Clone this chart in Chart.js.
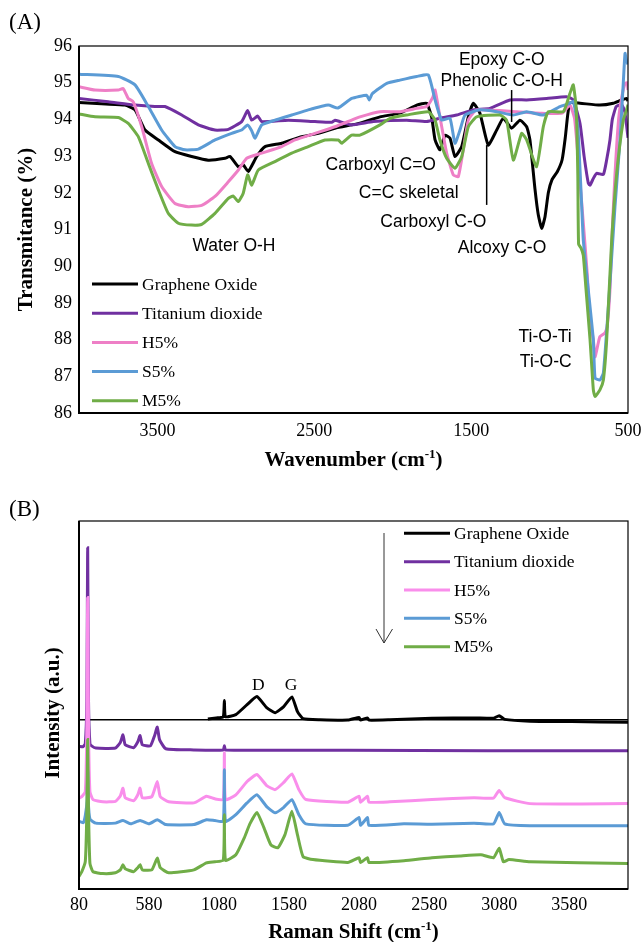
<!DOCTYPE html>
<html>
<head>
<meta charset="utf-8">
<script src="https://cdn.jsdelivr.net/npm/chart.js@4.4.1/dist/chart.umd.min.js"></script>
<style>
body { margin: 0; background: #fff; }
.panel { position: absolute; left: 0; width: 643px; height: 471px; }
</style>
</head>
<body>
<div class="panel" style="top:0"><canvas id="ftir" width="643" height="471"></canvas></div>
<div class="panel" style="top:471px"><canvas id="raman" width="643" height="471"></canvas></div>
<script>
let seriesNames = ['Graphene Oxide', 'Titanium dioxide', 'H5%', 'S5%', 'M5%'];
let ftirColors = ['#000000', '#7030A0', '#EE7FC6', '#5B9BD5', '#70AD47'];
let ramanColors = ['#000000', '#7030A0', '#F98EEB', '#5B9BD5', '#70AD47'];

// (A) FTIR, wavenumber (cm-1) vs transmittance (%)
let ftirTicksX = [3500, 2500, 1500, 500];
let goWave = [4000,3830,3707,3643,3579,3494,3388,3282,3176,3069,3037,2984,2953,2921,2867,2814,2708,2580,2474,2368,2262,2209,2081,1954,1847,1784,1752,1730,1699,1667,1635,1603,1560,1518,1486,1444,1391,1337,1295,1242,1189,1146,1125,1093,1072,1050,1029,1008,985,950,920,900,885,870,806,679,594,541,509,500];
let goT = [94.46,94.42,94.39,94.26,93.71,93.44,93.12,92.99,92.89,92.94,92.99,92.71,92.76,92.58,92.99,93.26,93.35,93.53,93.62,93.76,93.85,93.9,94.07,94.17,94.39,94.44,94.07,93.44,93.17,93.57,93.49,92.99,93.26,94.07,94.44,94.17,93.3,93.71,94.03,93.76,93.98,93.8,93.44,92.1,91.4,91.03,91.35,92.0,92.35,92.58,92.9,93.5,94.1,94.45,94.44,94.39,94.44,94.53,94.57,94.5];
let tiWave = [4000,3813,3643,3516,3452,3345,3239,3133,3048,2963,2925,2899,2861,2835,2666,2496,2389,2368,2336,2262,2124,1911,1784,1699,1592,1486,1380,1253,1146,1019,892,849,806,780,753,742,720,700,657,636,615,600,575,540,520,500];
let tiT = [94.57,94.48,94.39,94.35,94.35,94.12,93.85,93.71,93.73,93.94,94.24,93.98,94.09,93.94,93.98,93.94,93.92,93.98,93.94,93.85,93.94,93.98,93.94,94.03,94.12,94.26,94.3,94.53,94.53,94.57,94.62,94.53,93.89,93.0,92.26,92.21,92.4,92.53,92.5,92.9,93.44,94.0,94.35,94.4,94.2,93.5];
let h5Wave = [4000,3898,3749,3718,3686,3654,3600,3537,3473,3388,3303,3218,3133,3048,2984,2931,2835,2708,2623,2496,2368,2262,2209,2081,1954,1847,1784,1745,1730,1699,1656,1614,1582,1550,1518,1465,1210,1061,920,870,840,806,785,760,742,721,710,690,679,647,633,615,600,583,560,540,519,505,500];
let h5T = [94.89,94.8,94.8,94.84,94.57,94.48,93.8,92.8,92.17,91.71,91.62,91.66,91.9,92.3,92.62,92.94,93.08,93.26,93.44,93.62,93.8,93.98,94.07,94.21,94.21,94.3,94.35,94.6,94.8,94.07,93.08,92.49,92.44,93.17,93.98,94.26,94.21,94.17,94.17,94.39,94.0,92.3,91.18,89.8,88.5,88.0,87.53,87.9,88.08,88.18,88.35,89.35,91.0,92.5,94.0,94.6,94.98,95.0,94.8];
let s5Wave = [4000,3749,3643,3558,3473,3388,3324,3239,3133,3027,2963,2925,2900,2878,2835,2751,2644,2538,2411,2349,2262,2166,2150,2130,2038,1954,1847,1773,1730,1688,1635,1603,1571,1539,1444,1337,1231,1146,1040,934,870,848,820,795,785,753,721,710,679,657,625,583,551,530,519,510,500];
let s5T = [95.23,95.17,94.94,94.35,93.71,93.26,93.17,93.19,93.44,93.62,93.71,93.85,93.7,93.49,93.85,93.98,94.12,94.26,94.39,94.31,94.57,94.66,94.53,94.7,94.98,95.07,95.17,95.21,94.53,93.98,94.03,93.35,93.71,94.12,94.26,94.21,94.12,94.21,94.12,94.35,94.44,94.49,93.8,91.62,90.71,89.35,87.99,86.95,86.9,87.09,88.9,91.62,93.44,95.0,95.8,95.6,95.5];
let m5Wave = [4000,3898,3749,3686,3622,3558,3494,3431,3367,3282,3218,3133,3048,3016,2984,2953,2925,2899,2857,2751,2644,2538,2432,2347,2325,2262,2209,2081,2017,1911,1773,1730,1699,1656,1603,1560,1518,1465,1316,1274,1231,1178,1146,1083,1040,1008,912,870,849,830,820,815,800,785,770,742,721,710,679,657,636,604,572,530,509,500];
let m5T = [94.15,94.07,94.05,93.89,93.53,92.8,92.08,91.44,91.17,91.12,91.14,91.44,91.85,91.91,91.76,91.99,92.49,92.21,92.62,92.85,93.08,93.26,93.44,93.44,93.35,93.57,93.57,93.85,94.03,94.12,94.21,93.98,93.44,92.94,92.67,92.99,93.8,94.07,94.12,93.98,92.89,93.62,93.44,92.71,93.8,94.21,94.21,94.71,94.94,94.3,92.5,90.6,90.5,90.3,89.5,88.0,86.63,86.45,86.63,86.9,87.99,90.71,92.53,93.98,94.26,94.4];

// (B) Raman, shift (cm-1) vs intensity (a.u., offset traces)
let ramanTicksX = [80, 580, 1080, 1580, 2080, 2580, 3080, 3580];
let goShift = [1000,1060,1110,1118,1126,1200,1280,1350,1420,1480,1540,1600,1640,1680,1800,2000,2080,2090,2140,2150,2300,2600,2900,3040,3080,3120,3300,3600,4000];
let goInt = [0.2,0.5,0.8,5.2,0.8,1.4,4.1,6.3,3.3,1.9,3.5,6.2,2.2,0.3,0,-0.1,0.6,-0.1,0.5,-0.1,0,0.4,0.5,0.4,1.1,0.1,-0.4,-0.5,-0.7];
let tiShift = [80,110,125,136,142,148,158,170,200,340,375,394,410,470,500,516,532,590,620,639,655,700,900,1110,1118,1126,2000,3000,4000];
let tiInt = [-7.3,-7.3,-6.5,5,46.7,5,-6.5,-7.1,-7.7,-7.7,-6.2,-4.1,-6.8,-7.6,-6,-4.3,-6.8,-7.1,-4.3,-2,-5.4,-7.9,-8.2,-8.2,-7.1,-8.2,-8.3,-8.4,-8.4];
let h5Shift = [80,100,125,136,142,148,158,180,250,340,375,394,410,470,500,516,532,600,639,660,720,900,990,1050,1110,1118,1126,1200,1280,1350,1420,1480,1540,1600,1650,1700,2000,2080,2090,2140,2150,2300,2600,2900,3040,3080,3120,3300,4000];
let h5Int = [-21.3,-20.9,-19.5,-2,33.2,-2,-19.5,-21.7,-22.3,-22.2,-20.7,-18.6,-21.2,-22,-20.4,-18.6,-21.2,-20.9,-16.8,-20.9,-22.3,-22.6,-20.8,-21.5,-21.7,-9,-21.7,-20.4,-16.8,-14.9,-17.9,-19,-17.1,-14.7,-19,-21.7,-22.4,-20.8,-22.4,-20.8,-22.4,-22.3,-21.7,-21.2,-21.3,-19.2,-21.2,-22.8,-22.8];
let s5Shift = [80,110,125,138,142,146,158,200,340,394,450,516,580,639,700,900,990,1050,1110,1118,1126,1200,1280,1350,1420,1480,1540,1600,1650,1700,2000,2080,2090,2140,2150,2400,2600,2900,3040,3080,3120,3300,4000];
let s5Int = [-27.6,-28,-26,-22,-13.6,-22,-27,-28.1,-28.1,-27.4,-28.3,-27.4,-28.3,-27.2,-28.5,-28.5,-27.2,-27.4,-27.6,-13.6,-27.6,-25.8,-22.6,-20.4,-23.6,-25.3,-23.9,-21.7,-25.8,-28.3,-28.7,-26.6,-28.7,-26.6,-28.7,-28.3,-28.4,-28.1,-28.3,-25.2,-28.3,-28.8,-28.8];
let m5Shift = [80,100,125,136,142,148,158,180,250,340,375,394,410,470,500,516,532,600,639,660,720,900,990,1050,1110,1118,1126,1200,1260,1300,1350,1400,1450,1500,1550,1600,1640,1680,1750,2000,2080,2090,2140,2150,2400,2600,2800,2950,3040,3080,3110,3150,3300,4000];
let m5Int = [-42.6,-41.3,-38.5,-25,-5.4,-25,-39,-41.3,-41.8,-41.6,-40.8,-39.4,-40.5,-41.3,-40.2,-39.4,-40.8,-40.8,-37.6,-40.2,-41.6,-40.8,-38.9,-38.6,-38.2,-25.8,-38.2,-36.7,-32.1,-28.3,-25.2,-29.3,-34,-34.8,-31.3,-24.9,-31.3,-37.2,-38,-38.8,-37.5,-38.8,-37.5,-38.8,-38.3,-37.5,-37,-36.7,-37.5,-34.9,-38.6,-38,-38.6,-39.1];

// band labels, anchored in data units
let ftirNotes = [
    { text: 'Epoxy C-O', wave: 1305, t: 95.62, align: 'center' },
    { text: 'Phenolic C-O-H', wave: 1305, t: 95.03, align: 'center' },
    { text: 'Carboxyl C=O', wave: 2076, t: 92.74, align: 'center' },
    { text: 'C=C skeletal', wave: 1898, t: 92.0, align: 'center' },
    { text: 'Carboxyl C-O', wave: 1741, t: 91.21, align: 'center' },
    { text: 'Alcoxy C-O', wave: 1303, t: 90.5, align: 'center' },
    { text: 'Ti-O-Ti', wave: 859, t: 88.06, align: 'right' },
    { text: 'Ti-O-C', wave: 859, t: 87.38, align: 'right' },
    { text: 'Water O-H', wave: 3012, t: 90.55, align: 'center' }
];
let ftirPointers = [
    { wave: 1242, t1: 94.8, t2: 93.93 },
    { wave: 1401, t1: 93.3, t2: 91.67 }
];
let ramanNotes = [
    { text: 'D', shift: 1361, v: 9.3 },
    { text: 'G', shift: 1594, v: 9.3 }
];

let serif = "'Liberation Serif', 'Times New Roman', serif";
let sans = "'Liberation Sans', Arial, sans-serif";

function pts(xs, ys) {
    return xs.map((x, i) => ({ x: x, y: ys[i] }));
}

function makeSets(pairs, colors) {
    return pairs.map((p, i) => ({
        label: seriesNames[i],
        data: pts(p[0], p[1]),
        borderColor: colors[i],
        backgroundColor: colors[i],
        borderWidth: 3,
        pointRadius: 0,
        tension: 0.15,
        fill: false,
        order: pairs.length - i
    }));
}

function drawFrame(chart) {
    let a = chart.chartArea;
    let ctx = chart.ctx;
    ctx.save();
    ctx.strokeStyle = '#000';
    ctx.lineWidth = 1.2;
    ctx.strokeRect(a.left, a.top, a.right - a.left, a.bottom - a.top);
    ctx.lineWidth = 2;
    ctx.beginPath();
    ctx.moveTo(a.left, a.top);
    ctx.lineTo(a.left, a.bottom);
    ctx.lineTo(a.right, a.bottom);
    ctx.stroke();
    ctx.restore();
}

function drawLegend(chart, x0, y0, gap) {
    let ctx = chart.ctx;
    ctx.save();
    ctx.font = '17.5px ' + serif;
    ctx.textBaseline = 'middle';
    ctx.textAlign = 'left';
    ctx.fillStyle = '#000';
    chart.data.datasets.forEach((ds, i) => {
        let y = y0 + i * gap;
        ctx.strokeStyle = ds.borderColor;
        ctx.lineWidth = 3;
        ctx.beginPath();
        ctx.moveTo(x0, y);
        ctx.lineTo(x0 + 46, y);
        ctx.stroke();
        ctx.fillText(ds.label, x0 + 50, y + 1);
    });
    ctx.restore();
}

function drawSupTitle(ctx, main, sup, tail, cx, cy, size) {
    let big = 'bold ' + size + 'px ' + serif;
    let small = 'bold ' + Math.round(size * 0.62) + 'px ' + serif;
    ctx.save();
    ctx.fillStyle = '#000';
    ctx.textAlign = 'left';
    ctx.textBaseline = 'alphabetic';
    ctx.font = big;
    let w1 = ctx.measureText(main).width;
    let w3 = ctx.measureText(tail).width;
    ctx.font = small;
    let w2 = ctx.measureText(sup).width;
    let x = cx - (w1 + w2 + w3) / 2;
    let base = cy + size * 0.33;
    ctx.font = big;
    ctx.fillText(main, x, base);
    ctx.font = small;
    ctx.fillText(sup, x + w1, base - size * 0.38);
    ctx.font = big;
    ctx.fillText(tail, x + w1 + w2, base);
    ctx.restore();
}

function drawRotated(ctx, text, x, y, size) {
    ctx.save();
    ctx.translate(x, y);
    ctx.rotate(-Math.PI / 2);
    ctx.font = 'bold ' + size + 'px ' + serif;
    ctx.fillStyle = '#000';
    ctx.textAlign = 'center';
    ctx.textBaseline = 'middle';
    ctx.fillText(text, 0, 0);
    ctx.restore();
}

function fixAxis(size, horizontal) {
    return function (s) {
        if (horizontal) s.height = size; else s.width = size;
        s.paddingLeft = 0;
        s.paddingRight = 0;
        s.paddingTop = 0;
        s.paddingBottom = 0;
    };
}

let tickFont = { family: serif, size: 18 };
let plainNumber = v => String(v);

let ftirPlugin = {
    id: 'ftirDecor',
    afterDatasetsDraw(chart) {
        drawFrame(chart);
    },
    afterDraw(chart) {
        let ctx = chart.ctx;
        let xs = chart.scales.x;
        let ys = chart.scales.y;
        ctx.save();
        ctx.fillStyle = '#000';
        ctx.font = '17.5px ' + sans;
        ctx.textBaseline = 'middle';
        ftirNotes.forEach(n => {
            ctx.textAlign = n.align;
            ctx.fillText(n.text, xs.getPixelForValue(n.wave), ys.getPixelForValue(n.t));
        });
        ctx.strokeStyle = '#000';
        ctx.lineWidth = 1.5;
        ftirPointers.forEach(p => {
            let x = xs.getPixelForValue(p.wave);
            ctx.beginPath();
            ctx.moveTo(x, ys.getPixelForValue(p.t1));
            ctx.lineTo(x, ys.getPixelForValue(p.t2));
            ctx.stroke();
        });
        ctx.font = '23px ' + serif;
        ctx.textAlign = 'left';
        ctx.fillText('(A)', 9, 23);
        ctx.restore();
        drawLegend(chart, 92, 284, 29.2);
        drawRotated(ctx, 'Transmitance (%)', 27, 229.5, 21);
        drawSupTitle(ctx, 'Wavenumber (cm', '-1', ')', 353.5, 459, 21);
    }
};

let ramanPlugin = {
    id: 'ramanDecor',
    afterDatasetsDraw(chart) {
        drawFrame(chart);
    },
    afterDraw(chart) {
        let ctx = chart.ctx;
        let xs = chart.scales.x;
        let ys = chart.scales.y;
        ctx.save();
        ctx.fillStyle = '#000';
        ctx.font = '17.5px ' + serif;
        ctx.textAlign = 'center';
        ctx.textBaseline = 'middle';
        ramanNotes.forEach(n => {
            ctx.fillText(n.text, xs.getPixelForValue(n.shift), ys.getPixelForValue(n.v));
        });
        // arrow beside the legend
        ctx.strokeStyle = '#333';
        ctx.lineWidth = 1;
        ctx.beginPath();
        ctx.moveTo(384, 62);
        ctx.lineTo(384, 172);
        ctx.moveTo(376, 158);
        ctx.lineTo(384, 172);
        ctx.lineTo(392.5, 158);
        ctx.stroke();
        ctx.font = '23px ' + serif;
        ctx.textAlign = 'left';
        ctx.fillText('(B)', 9, 39);
        ctx.restore();
        drawLegend(chart, 404, 62.3, 28.35);
        drawRotated(ctx, 'Intensity (a.u.)', 53.5, 242, 21);
        drawSupTitle(ctx, 'Raman Shift (cm', '-1', ')', 353.5, 460.5, 21);
    }
};

new Chart(document.getElementById('ftir'), {
    type: 'line',
    data: {
        datasets: makeSets([[goWave, goT], [tiWave, tiT], [h5Wave, h5T], [s5Wave, s5T], [m5Wave, m5T]], ftirColors)
    },
    options: {
        responsive: false,
        animation: false,
        layout: { padding: { left: 0, top: 46, right: 15, bottom: 0 } },
        plugins: { legend: { display: false }, tooltip: { enabled: false } },
        scales: {
            x: {
                type: 'linear',
                reverse: true,
                min: 500,
                max: 4000,
                afterBuildTicks: s => { s.ticks = ftirTicksX.map(v => ({ value: v })); },
                afterFit: fixAxis(58, true),
                grid: { display: false, drawTicks: false },
                border: { display: false },
                ticks: { font: tickFont, color: '#000', padding: 7, maxRotation: 0, autoSkip: false, callback: plainNumber }
            },
            y: {
                min: 86,
                max: 96,
                afterFit: fixAxis(79, false),
                grid: { display: false, drawTicks: false },
                border: { display: false },
                ticks: { stepSize: 1, font: tickFont, color: '#000', padding: 7, callback: plainNumber }
            }
        }
    },
    plugins: [ftirPlugin]
});

new Chart(document.getElementById('raman'), {
    type: 'line',
    data: {
        datasets: makeSets([[goShift, goInt], [tiShift, tiInt], [h5Shift, h5Int], [s5Shift, s5Int], [m5Shift, m5Int]], ramanColors)
    },
    options: {
        responsive: false,
        animation: false,
        layout: { padding: { left: 0, top: 50, right: 15, bottom: 0 } },
        plugins: { legend: { display: false }, tooltip: { enabled: false } },
        scales: {
            x: {
                type: 'linear',
                min: 80,
                max: 4000,
                afterBuildTicks: s => { s.ticks = ramanTicksX.map(v => ({ value: v })); },
                afterFit: fixAxis(53, true),
                grid: { display: false, drawTicks: false },
                border: { display: false },
                ticks: { font: tickFont, color: '#000', padding: 5, maxRotation: 0, autoSkip: false, callback: plainNumber }
            },
            y: {
                min: -46,
                max: 54,
                afterBuildTicks: s => { s.ticks = [{ value: 0 }]; },
                afterFit: fixAxis(79, false),
                grid: { color: '#000', lineWidth: 1.5, drawTicks: false },
                border: { display: false },
                ticks: { display: false }
            }
        }
    },
    plugins: [ramanPlugin]
});
</script>
</body>
</html>
